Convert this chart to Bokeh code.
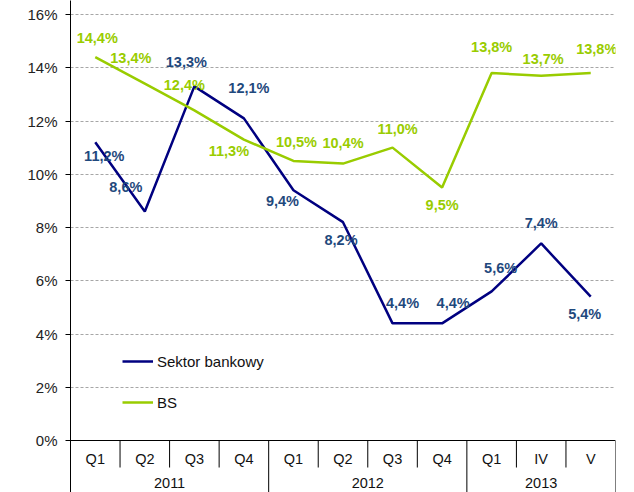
from bokeh.plotting import figure
from bokeh.models import (ColumnDataSource, Range1d, FixedTicker, PrintfTickFormatter,
                          Legend, LegendItem)
from bokeh.core.properties import value
from bokeh.embed import file_html
from bokeh.resources import INLINE

# ---- data ----
periods = ["Q1", "Q2", "Q3", "Q4", "Q1", "Q2", "Q3", "Q4", "Q1", "IV", "V"]
years = ["2011", "2012", "2013"]
year_counts = [4, 4, 3]
sektor = [11.2, 8.6, 13.3, 12.1, 9.4, 8.2, 4.4, 4.4, 5.6, 7.4, 5.4]
bs = [14.4, 13.4, 12.4, 11.3, 10.5, 10.4, 11.0, 9.5, 13.8, 13.7, 13.8]
y_ticks = [0, 2, 4, 6, 8, 10, 12, 14, 16]

# label offsets (screen px, style only)
sektor_dx = [9, -19, -8, 5, -11, -2, 10, 11, 9, 0, -6]
sektor_dy = [14, -25, -24, -30, 11, 18, -20, -20, -23, -20, 17]
bs_dx = [2, -14, -10, -15, 3, 0, 5, 0, 0, 2, 6]
bs_dy = [-19, -26, -25, 11, -19, -21, -19, 17, -26, -17, -24]

BLUE = "#000080"
BLUE_TXT = "#1F497D"
GREEN = "#99CC00"
FONT = "Liberation Sans"

W, H = 634, 492
px_per_unit = 426 / 16.0
y_top = 16 + 14 / px_per_unit
y_bot = -(H - 440) / px_per_unit

p = figure(width=W, height=H, output_backend="svg", toolbar_location=None,
           x_range=Range1d(0, len(periods)), y_range=Range1d(y_bot, y_top),
           x_axis_location=None, min_border_left=70, min_border_right=19,
           min_border_top=0, min_border_bottom=0)
p.outline_line_color = None
p.xgrid.visible = False

yax = p.yaxis[0]
yax.ticker = FixedTicker(ticks=y_ticks)
yax.formatter = PrintfTickFormatter(format="%d%%")
yax.axis_line_color = "black"
yax.major_tick_line_color = "black"
yax.major_tick_out = 5
yax.major_tick_in = 0
yax.minor_tick_line_color = None
yax.major_label_standoff = 8
yax.major_label_text_font = FONT
yax.major_label_text_font_size = "15px"
yax.major_label_text_color = "#222222"

p.ygrid.ticker = FixedTicker(ticks=y_ticks)
p.ygrid.grid_line_color = "#A6A6A6"
p.ygrid.grid_line_dash = "3 2"
p.ygrid.grid_line_width = 1

xs = [i + 0.5 for i in range(len(periods))]

# ---- category table ----
n = len(periods)
year_bounds = []
acc = 0
for c in year_counts:
    acc += c
    year_bounds.append(acc)
year_starts = [b - c for b, c in zip(year_bounds, year_counts)]
q_seps = [i for i in range(1, n) if i not in year_bounds]
table_row = -27 / px_per_unit
p.segment(x0=q_seps, y0=[0] * len(q_seps), x1=q_seps, y1=[table_row] * len(q_seps),
          line_color="black", line_width=1)
p.segment(x0=year_bounds, y0=[0] * len(year_bounds), x1=year_bounds,
          y1=[y_bot] * len(year_bounds), line_color="black", line_width=1)
p.segment(x0=[0], y0=[0], x1=[n], y1=[0], line_color="black", line_width=1)

p.text(x=xs, y=[-18 / px_per_unit] * n, text=periods, text_align="center",
       text_baseline="middle", text_font=value(FONT), text_font_size="14.5px",
       text_color="#111111")
year_x = [(s + b) / 2 for s, b in zip(year_starts, year_bounds)]
p.text(x=year_x, y=[-42 / px_per_unit] * len(years), text=years, text_align="center",
       text_baseline="middle", text_font=value(FONT), text_font_size="14.5px",
       text_color="#111111")

# ---- lines ----
r1 = p.line(xs, sektor, line_color=BLUE, line_width=2.5)
r2 = p.line(xs, bs, line_color=GREEN, line_width=2.5)

def fmt(v):
    return ("%.1f%%" % v).replace(".", ",")

src_s = ColumnDataSource(dict(x=xs, y=sektor, t=[fmt(v) for v in sektor],
                              dx=sektor_dx, dy=sektor_dy))
src_b = ColumnDataSource(dict(x=xs, y=bs, t=[fmt(v) for v in bs],
                              dx=bs_dx, dy=bs_dy))
p.text(x="x", y="y", text="t", x_offset="dx", y_offset="dy", source=src_s,
       text_align="center", text_baseline="middle", text_font=value(FONT),
       text_font_size="14.5px", text_font_style="bold", text_color=BLUE_TXT)
p.text(x="x", y="y", text="t", x_offset="dx", y_offset="dy", source=src_b,
       text_align="center", text_baseline="middle", text_font=value(FONT),
       text_font_size="14.5px", text_font_style="bold", text_color=GREEN)

legend = Legend(items=[LegendItem(label="Sektor bankowy", renderers=[r1]),
                       LegendItem(label="BS", renderers=[r2])],
                location=(52, 80), orientation="vertical")
legend.glyph_width = 31
legend.glyph_height = 20
legend.label_standoff = 4
legend.spacing = 21
legend.padding = 0
legend.margin = 0
legend.border_line_alpha = 0
legend.background_fill_alpha = 0
legend.label_text_font = FONT
legend.label_text_font_size = "15px"
legend.label_text_color = "#111111"
legend.label_height = 20
p.add_layout(legend)

open("out.html", "w").write(file_html(p, INLINE))
